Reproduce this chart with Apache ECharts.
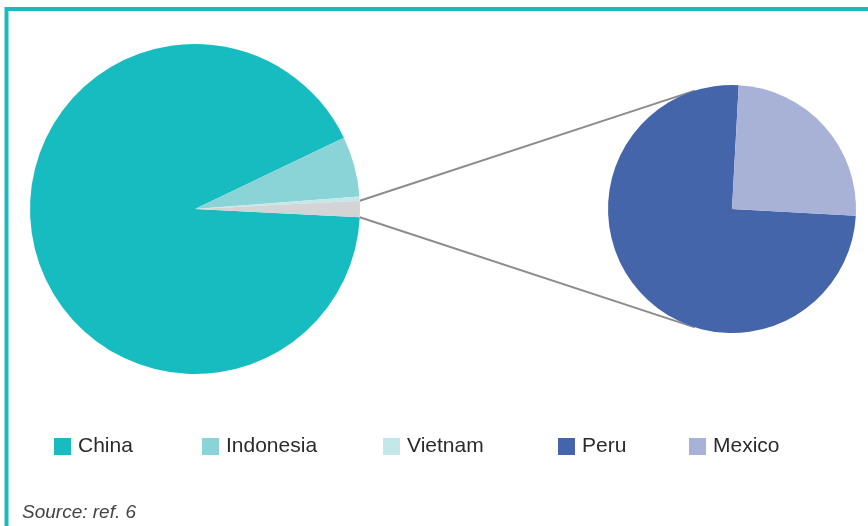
<!DOCTYPE html>
<html>
<head>
<meta charset="utf-8">
<script src="https://cdn.jsdelivr.net/npm/echarts@6/dist/echarts.min.js"></script>
<style>
html,body{margin:0;padding:0;background:#fff;}
#chart{width:868px;height:526px;}
</style>
</head>
<body>
<div id="chart"></div>
<script>
// Data (percent of production)
const mainCategories = ['China', 'Indonesia', 'Vietnam'];
const mainValues = [92.1, 5.9, 0.4];
const subCategories = ['Peru', 'Mexico'];
const subValues = [1.2, 0.4];
const otherLabel = 'Other';

const mainColors = ['#17BCC1', '#8AD4D7', '#C3E8EA'];
const subColors = ['#4565AA', '#A8B1D6'];
const otherColor = '#D4D4D6';

const otherValue = subValues.reduce((a, b) => a + b, 0);
const total = mainValues.reduce((a, b) => a + b, 0) + otherValue;
const halfOther = otherValue / total * 360 / 2;

// geometry
const C1 = [195, 209], R1 = 165;
const C2 = [732, 209], R2 = 124;
const connAngle = 107.4 * Math.PI / 180;
const h = halfOther * Math.PI / 180;
const p1 = [C1[0] + R1 * Math.cos(h), C1[1] - R1 * Math.sin(h)];
const p2 = [C1[0] + R1 * Math.cos(h), C1[1] + R1 * Math.sin(h)];
const q1 = [C2[0] + R2 * Math.cos(connAngle), C2[1] - R2 * Math.sin(connAngle)];
const q2 = [C2[0] + R2 * Math.cos(connAngle), C2[1] + R2 * Math.sin(connAngle)];

const mainData = mainCategories.map((n, i) => ({ name: n, value: mainValues[i], itemStyle: { color: mainColors[i] } }));
mainData.push({ name: otherLabel, value: otherValue, itemStyle: { color: otherColor } });
const subData = subCategories.map((n, i) => ({ name: n, value: subValues[i], itemStyle: { color: subColors[i] } }));

const legendLefts = [54, 202, 383, 558, 689];
const legendNames = mainCategories.concat(subCategories);
const legends = legendNames.map((n, i) => ({
  data: [n],
  left: legendLefts[i],
  top: 436,
  padding: 0,
  itemWidth: 17,
  itemHeight: 17,
  icon: 'rect',
  itemGap: 0,
  selectedMode: false,
  textStyle: { fontFamily: 'Liberation Sans, Arial, sans-serif', fontSize: 21, color: '#2b2b2b', padding: [0, 0, 0, 2] }
}));

const chart = echarts.init(document.getElementById('chart'), null, { renderer: 'canvas' });
chart.setOption({
  animation: false,
  backgroundColor: '#ffffff',
  legend: legends,
  graphic: [
    { type: 'polyline', shape: { points: [[6.5, 530], [6.5, 9], [870, 9]] }, style: { stroke: '#17BCC1', lineWidth: 4, fill: null }, z: 10 },
    { type: 'line', shape: { x1: p1[0], y1: p1[1], x2: q1[0], y2: q1[1] }, style: { stroke: '#8C8C8C', lineWidth: 2 }, z: 1 },
    { type: 'line', shape: { x1: p2[0], y1: p2[1], x2: q2[0], y2: q2[1] }, style: { stroke: '#8C8C8C', lineWidth: 2 }, z: 1 },
    { type: 'text', left: 22, top: 503, style: { text: 'Source: ref. 6', fontFamily: 'Liberation Sans, Arial, sans-serif', fontStyle: 'italic', fontSize: 19, fill: '#444444' } }
  ],
  series: [
    {
      type: 'pie',
      center: C1,
      radius: R1,
      startAngle: -halfOther,
      clockwise: true,
      label: { show: false },
      labelLine: { show: false },
      emphasis: { disabled: true },
      itemStyle: { borderWidth: 0 },
      data: mainData,
      z: 3
    },
    {
      type: 'pie',
      center: C2,
      radius: R2,
      startAngle: -3.1,
      clockwise: true,
      label: { show: false },
      labelLine: { show: false },
      emphasis: { disabled: true },
      itemStyle: { borderWidth: 0 },
      data: subData,
      z: 3
    }
  ]
});
</script>
</body>
</html>
